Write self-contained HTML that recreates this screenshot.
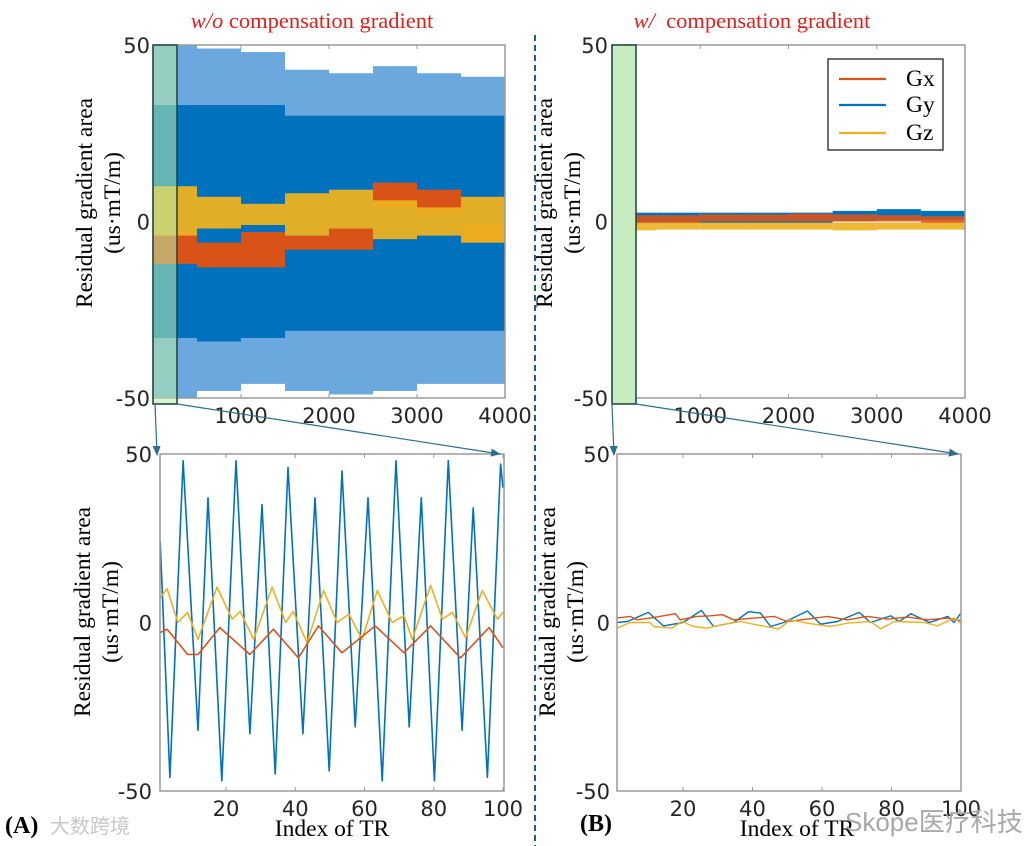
<!DOCTYPE html>
<html><head><meta charset="utf-8">
<style>
html,body{margin:0;padding:0;background:#fff;}
svg{display:block;}
.tick{font-family:"DejaVu Sans","Liberation Sans",sans-serif;font-size:21px;fill:#262626;}
.lab{font-family:"Liberation Serif",serif;font-size:21px;fill:#000;}
.ylab{font-family:"Liberation Serif",serif;font-size:23.5px;fill:#000;}
</style></head>
<body>
<svg id="fig" width="1033" height="846" viewBox="0 0 1033 846" xmlns="http://www.w3.org/2000/svg">
<defs>
<marker id="ah" markerWidth="10" markerHeight="8" refX="9" refY="4" orient="auto" markerUnits="userSpaceOnUse">
<path d="M0,0 L10,4 L0,8 z" fill="#2a6f8f"/>
</marker>
</defs>
<g id="root"></g>
</svg>
<script>
// ---- Top panels: segment envelopes (per 500-TR block) ----
const segStart = [0,500,1000,1500,2000,2500,3000,3500];
const segWidth = 500;
const blueSpikeHi = [50,49,48,43,42,44,42,41];
const blueSolidHi = [33,33,33,30,30,30,30,30];
const blueSolidLo = [-33,-34,-33,-31,-31,-31,-31,-31];
const blueSpikeLo = [-50,-48,-46,-48,-49,-48,-46,-46];
const orangeHi = [-3,-6,-3,-4,-2,11,9,-1];
const orangeLo = [-12,-13,-13,-8,-8,4,2,-6];
const yellowHi = [10,7,5,8,9,6,4,7];
const yellowLo = [-4,-2,-1,-4,-2,-5,-4,-6];
// with compensation
const cBlueHi = [2.5,2.5,2.5,2.5,2.5,3,3.5,3];
const cBlueLo = [-0.5,-0.5,-0.5,-0.5,-0.5,0,0.5,0.5];
const cOrangeHi = [1.8,1.8,2,2,2.2,2,1.8,1.5];
const cOrangeLo = [-0.5,-0.5,0,0,0,0,0,-0.5];
const cYellowHi = [-0.3,-0.3,-0.3,-0.3,-0.3,-0.3,-0.3,-0.3];
const cYellowLo = [-2.5,-2.3,-2.3,-2.3,-2.3,-2.5,-2.3,-2.3];
const topXTicks = [1000,2000,3000,4000];
const yTicks = [50,0,-50];
const zoomXTicks = [20,40,60,80,100];

// ---- Bottom-left (w/o) sampled keypoints ----
const blX = [1,3.8,7.6,11.9,14.8,18.8,22.9,26.9,30.4,34.2,37.9,42.2,45.7,49.8,53.5,57.3,61,65.1,69.1,72.9,76.4,80.2,84.2,88.2,91.4,95.5,99.3,100];
const blBlue = [24,-46,48,-32,37,-47,48,-33,35,-45,46,-33,37,-44,45,-31,37,-47,48,-31,37,-47,48,-32,34,-46,47,40];
const ylX = [1,3,6.1,8.9,11.9,17.4,21.8,24.1,28,33.3,37.2,39.4,43.4,48.2,52.1,55.5,59.3,63.7,68,71.4,73.8,79.1,82.5,85.4,89.2,94,98.4,100];
const ylVal = [7.4,10,0,3,-5,10.5,1,3.3,-5,10.5,0,3.3,-6,9.5,0,2.5,-5,9.5,0,2,-5,11,1,3,-4.5,9.5,1,3];
const orX = [1,3,8.9,11.9,18.2,26.9,33.7,40.9,46.7,53.5,63.1,71.4,79.1,87.7,96,100];
const orVal = [-3,-2,-9.5,-9.5,-1.5,-9.5,-2,-10.5,-1,-9,-1,-9,-1,-10.5,-1.5,-7.5];

// ---- Bottom-right (w/) keypoints ----
const brBlueX = [1,4,10,14.4,20,25.3,28.8,34.6,38.9,42.3,45.2,49,55.8,59.6,64.4,70.7,74,79.8,82.2,85.6,90.9,96.2,98,100];
const brBlue = [0,0.3,3,-1,0,3.6,-1.2,0,3.2,2.8,-1.2,0,3.4,-0.5,0.3,3,0,2,0.3,2.6,0,1.8,0,2.8];
const brOrX = [1,4.8,6.7,10.6,17.8,19.2,24,27.9,31.3,34.6,40.4,46.2,50,55.8,61.5,67.3,73,78.8,84.6,90.4,96.2,100];
const brOr = [1.3,1.8,0.8,1.3,2.6,0.8,1.8,2,2.3,0.8,1.3,1.8,0.3,1,1.8,0.8,1.8,1,1.6,0.8,1.3,0.5];
const brYlX = [1,4.8,10.6,11.5,16.8,19.7,23,26.9,30.8,36.5,41.3,47.6,50.9,55.8,62.5,67.3,74,76.9,80.8,89.4,93.3,98,100];
const brYl = [-1.7,0,0,-1.2,-1.7,0.3,-1.2,-1.7,-0.7,0.3,-0.7,-1.9,0.8,-0.2,-1.2,-0.2,0.3,-1.9,0.3,0,-1,1.3,-0.2];

const NS = "http://www.w3.org/2000/svg";
const root = document.getElementById('root');
const BLUE="#0072BD", ORANGE="#D95319", YELLOW="#EDB120";
function mk(tag, attrs, parent){
  const e=document.createElementNS(NS,tag);
  for(const k in attrs) e.setAttribute(k,attrs[k]);
  (parent||root).appendChild(e); return e;
}
function lin(d0,d1,r0,r1){return v=>r0+(v-d0)*(r1-r0)/(d1-d0);}

function axesBox(x0,y0,x1,y1,name){
  const r=mk('rect',{x:x0,y:y0,width:x1-x0,height:y1-y0,fill:'none',stroke:'#9a9a9a','stroke-width':1.5});
  
  
}
function yAxis(ys,yr,xRight,name){
  const g=mk('g',{});
  
  
  yTicks.forEach(v=>{
    const t=mk('text',{x:xRight,y:ys(v)+8,'text-anchor':'end',class:'tick'},g);
    t.textContent=v;
    
    
  });
}
function xAxis(xs,ticks,yBase,ytop,name){
  const g=mk('g',{});
  
  
  ticks.forEach(v=>{
    mk('line',{x1:xs(v),x2:xs(v),y1:yBase,y2:yBase-4,stroke:'#9a9a9a','stroke-width':1},g);
    mk('line',{x1:xs(v),x2:xs(v),y1:ytop,y2:ytop+4,stroke:'#9a9a9a','stroke-width':1},g);
    const t=mk('text',{x:xs(v),y:yBase+25,'text-anchor':'middle',class:'tick'},g);
    t.textContent=v;
    
    
  });
}
function yLabel(cx,cy,name){
  const g=mk('g',{transform:`translate(${cx},${cy}) rotate(-90)`});
  
  
  const t1=mk('text',{x:0,y:0,'text-anchor':'middle',class:'ylab'},g); t1.textContent='Residual gradient area';
  const t2=mk('text',{x:0,y:28,'text-anchor':'middle',class:'ylab'},g); t2.textContent='(us\u00b7mT/m)';
}
function band(xs,ys,hi,lo,color,name,op){
  segStart.forEach((s,i)=>{
    const x0=xs(s), x1=xs(s+segWidth);
    const yA=ys(hi[i]), yB=ys(lo[i]);
    const r=mk('rect',{x:x0,y:Math.min(yA,yB),width:x1-x0,height:Math.abs(yB-yA),fill:color,opacity:op||1});
    
    
  });
}
function line(xs,ys,X,Y,color,name,w){
  const d=X.map((x,i)=>(i?'L':'M')+xs(x).toFixed(1)+','+ys(Y[i]).toFixed(1)).join(' ');
  const p=mk('path',{d:d,fill:'none',stroke:color,'stroke-width':w||1.6,'stroke-linejoin':'round'});
  
  
}

// ===== Top-left =====
{
  const xs=lin(0,4000,153,505), ys=lin(50,-50,45,398);
  band(xs,ys,blueSpikeHi,blueSolidHi,'#6aa8dd','gy-spike-band-upper');
  band(xs,ys,blueSolidLo,blueSpikeLo,'#6aa8dd','gy-spike-band-lower');
  band(xs,ys,blueSolidHi,blueSolidLo,BLUE,'gy-band');
  band(xs,ys,orangeHi,orangeLo,ORANGE,'gx-band');
  band(xs,ys,yellowHi,yellowLo,YELLOW,'gz-band',0.95);
  axesBox(153,45,505,398,'top-left-axes');
  xAxis(xs,topXTicks,398,45,'top-left-x-axis');
  yAxis(ys,null,150,'top-left-y-axis');
  yLabel(92,203,'top-left-y-axis-title');
  const hl=mk('rect',{x:153,y:45,width:24,height:359,fill:'#b8ecaa','fill-opacity':0.55,stroke:'#1f4040','stroke-width':1.5});
  
  
}
// ===== Top-right =====
{
  const xs=lin(0,4000,612,965), ys=lin(50,-50,45,398);
  band(xs,ys,cBlueHi,cBlueLo,BLUE,'gy-band-comp');
  band(xs,ys,cOrangeHi,cOrangeLo,ORANGE,'gx-band-comp',0.9);
  band(xs,ys,cYellowHi,cYellowLo,YELLOW,'gz-band-comp',0.9);
  axesBox(612,45,965,398,'top-right-axes');
  xAxis(xs,topXTicks,398,45,'top-right-x-axis');
  yAxis(ys,null,608,'top-right-y-axis');
  yLabel(552,203,'top-right-y-axis-title');
  const hl=mk('rect',{x:612,y:45,width:24,height:359,fill:'#c6ecbf',stroke:'#1f4040','stroke-width':1.5});
  
  
  // legend
  const lg=mk('g',{});
  
  
  mk('rect',{x:828,y:59,width:115,height:91,fill:'#fff',stroke:'#222','stroke-width':1.3},lg);
  [['Gx',ORANGE,79],['Gy',BLUE,105],['Gz',YELLOW,133]].forEach(e=>{
    const it=mk('g',{},lg);
    
    
    mk('line',{x1:839,x2:886,y1:e[2],y2:e[2],stroke:e[1],'stroke-width':2.2},it);
    const t=mk('text',{x:906,y:e[2]+7,class:'ylab'},it); t.textContent=e[0];
  });
}
// ===== Bottom-left =====
{
  const xs=lin(20,100,226,503), ys=lin(50,-50,454,791);
  line(xs,ys,blX,blBlue,BLUE,'gy-line-zoom');
  line(xs,ys,ylX,ylVal,YELLOW,'gz-line-zoom');
  line(xs,ys,orX,orVal,ORANGE,'gx-line-zoom');
  axesBox(160,454,504,791,'bottom-left-axes');
  xAxis(xs,zoomXTicks,791,454,'bottom-left-x-axis');
  yAxis(ys,null,152,'bottom-left-y-axis');
  yLabel(90,612,'bottom-left-y-axis-title');
  const xl=mk('text',{x:332,y:836,'text-anchor':'middle',class:'ylab'}); xl.textContent='Index of TR';
  
  
}
// ===== Bottom-right =====
{
  const xs=lin(20,100,683,961), ys=lin(50,-50,454,791);
  line(xs,ys,brBlueX,brBlue,BLUE,'gy-line-zoom-comp',1.4);
  line(xs,ys,brOrX,brOr,ORANGE,'gx-line-zoom-comp',1.4);
  line(xs,ys,brYlX,brYl,YELLOW,'gz-line-zoom-comp',1.4);
  axesBox(617,454,961,791,'bottom-right-axes');
  xAxis(xs,zoomXTicks,791,454,'bottom-right-x-axis');
  yAxis(ys,null,610,'bottom-right-y-axis');
  yLabel(555,612,'bottom-right-y-axis-title');
  const xl=mk('text',{x:797,y:836,'text-anchor':'middle',class:'ylab'}); xl.textContent='Index of TR';
  
  
}
// arrows
[[155,404,157,455],[177,404,500,454],[612,404,614,455],[636,404,958,454]].forEach(a=>{
  const l=mk('line',{x1:a[0],y1:a[1],x2:a[2],y2:a[3],stroke:'#2a6f8f','stroke-width':1.2,'marker-end':'url(#ah)'});
  
  
});
// divider
{
  const d=mk('line',{x1:535,y1:35,x2:535,y2:846,stroke:'#1f5f8b','stroke-width':2,'stroke-dasharray':'6,4'});
  
  
}
// titles
function title(x,it,rest,name){
  const t=mk('text',{x:x,y:28,'text-anchor':'middle',class:'lab',style:'fill:#e0201c;font-size:22.5px'});
  
  
  const a=mk('tspan',{'font-style':'italic'},t); a.textContent=it;
  const b=mk('tspan',{},t); b.textContent=rest;
}
title(312,'w/o',' compensation gradient','title-left');
title(752,'w/',' \u00a0compensation gradient','title-right');
// panel labels and watermarks
{
  const a=mk('text',{x:5,y:833,class:'lab',style:'font-weight:bold;font-size:24px'}); a.textContent='(A)';
  
  
  const w=mk('text',{x:50,y:833,style:'font-family:"Liberation Sans","Noto Sans CJK SC",sans-serif;font-size:20px;fill:#c8c8c8'}); w.textContent='大数跨境';
  
  
  const b=mk('text',{x:580,y:831,class:'lab',style:'font-weight:bold;font-size:24px'}); b.textContent='(B)';
  
  
  const s=mk('text',{x:845,y:831,style:'font-family:"Liberation Sans","Noto Sans CJK SC",sans-serif;font-size:26px;fill:#a8a8a8'}); s.textContent='Skope医疗科技';
  
  
}
</script>
</body></html>
